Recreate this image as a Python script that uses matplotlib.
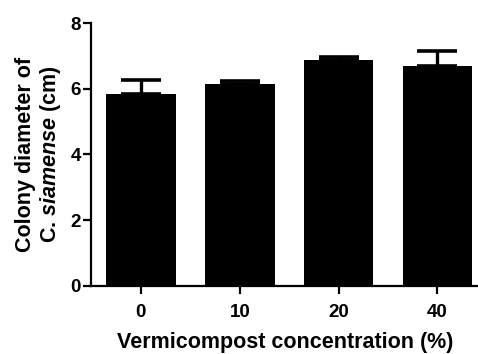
import numpy as np
import matplotlib
matplotlib.use("Agg")
import matplotlib.pyplot as plt

plt.rcParams['font.family'] = ['Liberation Sans', 'DejaVu Sans']
plt.rcParams['font.weight'] = 'bold'
plt.rcParams['mathtext.fontset'] = 'custom'
plt.rcParams['mathtext.rm'] = 'Liberation Sans:bold'
plt.rcParams['mathtext.it'] = 'Liberation Sans:italic:bold'

concentrations = ["0", "10", "20", "40"]
diameter = [5.83, 6.14, 6.86, 6.68]
sem = [0.42, 0.10, 0.10, 0.46]

fig = plt.figure(figsize=(4.78, 3.54), dpi=100)
ax = fig.add_axes([0.190, 0.193, 0.812, 0.742])

x = np.arange(len(concentrations))
ax.bar(x, diameter, width=0.705, color="black", zorder=2)
ax.errorbar(x, diameter, yerr=[np.zeros(len(sem)), sem], fmt="none",
            ecolor="black", elinewidth=2.4, capsize=14.5, capthick=2.6, zorder=1)

ax.set_xlim(-0.507, 3.42)
ax.set_ylim(0, 8)
ax.set_xticks(x)
ax.set_xticklabels(concentrations)
ax.set_yticks([0, 2, 4, 6, 8])

for side in ["top", "right"]:
    ax.spines[side].set_visible(False)
for side in ["left", "bottom"]:
    ax.spines[side].set_linewidth(1.6)
ax.tick_params(axis="both", width=1.6, length=6, labelsize=13.5, pad=1.2)
ax.tick_params(axis="x", pad=7)
for lbl in ax.get_xticklabels() + ax.get_yticklabels():
    lbl.set_fontweight("bold")

ax.set_xlabel("Vermicompost concentration (%)", fontsize=15.5, fontweight="bold", labelpad=8)
ax.set_ylabel("Colony diameter of\nC. $\\it{siamense}$ (cm)", fontsize=15.5,
              fontweight="bold", labelpad=5, linespacing=1.15)

fig.savefig("out.png", dpi=100)
